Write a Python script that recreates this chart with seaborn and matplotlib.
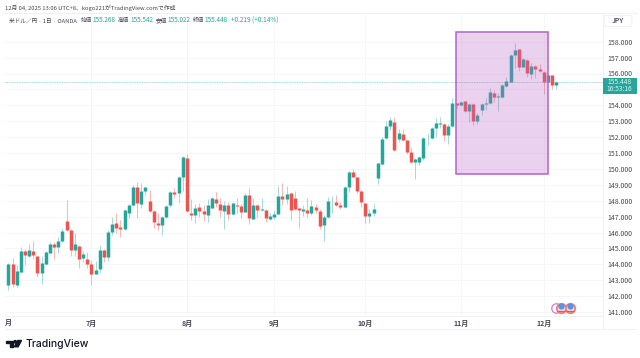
import matplotlib
matplotlib.use("Agg")
import matplotlib.pyplot as plt
from matplotlib.patches import Rectangle, FancyBboxPatch, Polygon, Circle
import pandas as pd
import seaborn as sns

# daily candles, USD/JPY, from 2 June to 4 Dec 2025
opens = [143.31, 142.70, 144.00, 142.70, 143.52, 144.86, 144.53, 144.84, 144.53, 143.48, 144.00, 144.74, 145.28, 145.09,
         145.45, 146.71, 146.16, 144.90, 145.18, 144.40, 144.36, 144.05, 143.37, 143.71, 144.90, 144.44, 146.04, 146.62,
         146.35, 146.25, 147.21, 147.71, 148.89, 147.82, 148.59, 147.99, 147.36, 146.62, 146.48, 146.98, 147.73, 148.55,
         148.51, 149.47, 150.71, 147.25, 147.13, 147.59, 147.36, 147.13, 147.57, 148.11, 147.78, 147.38, 147.76, 147.17,
         147.76, 147.65, 147.32, 148.34, 146.85, 147.73, 147.42, 147.42, 146.87, 147.00, 147.19, 148.32, 148.09, 148.51,
         148.17, 147.52, 147.36, 147.40, 147.21, 147.63, 147.34, 146.46, 146.96, 147.97, 147.92, 147.76, 147.59, 148.89,
         149.83, 149.49, 148.61, 147.84, 147.04, 147.25, 149.41, 150.31, 151.93, 152.70, 152.95, 151.87, 152.20, 151.80,
         151.07, 150.42, 150.44, 150.71, 151.93, 151.95, 152.58, 152.85, 152.85, 152.12, 152.70, 154.13, 154.05, 154.25,
         153.67, 154.11, 153.04, 153.71, 154.09, 154.13, 154.76, 154.51, 154.55, 155.24, 155.49, 157.15, 157.52, 156.43,
         156.85, 156.00, 156.48, 156.31, 156.12, 155.47, 155.89, 155.268]
highs = [143.86, 144.07, 144.38, 143.96, 145.07, 144.95, 145.28, 145.45, 144.53, 144.53, 144.86, 145.41, 145.43, 145.74,
         146.27, 148.05, 146.20, 145.95, 145.22, 144.86, 144.76, 144.28, 144.23, 145.22, 144.95, 146.16, 146.96, 147.21,
         146.79, 147.48, 147.80, 148.99, 149.20, 149.10, 148.89, 148.68, 147.42, 147.21, 147.04, 147.73, 148.61, 148.78,
         149.56, 150.84, 150.92, 148.09, 147.80, 147.88, 147.71, 148.13, 148.26, 148.53, 148.15, 147.99, 147.94, 147.94,
         148.15, 147.80, 148.47, 148.78, 148.15, 147.80, 148.15, 147.46, 147.21, 147.42, 148.93, 149.14, 148.93, 148.57,
         148.59, 147.57, 147.73, 148.15, 148.05, 147.78, 147.46, 147.11, 148.26, 148.30, 148.36, 147.94, 148.93, 149.89,
         149.98, 149.52, 148.68, 147.88, 147.48, 147.80, 150.40, 151.99, 153.04, 153.25, 153.25, 152.54, 152.49, 151.82,
         151.36, 150.67, 150.82, 151.99, 152.28, 152.66, 153.19, 153.25, 152.87, 152.81, 154.44, 154.17, 154.30, 154.30,
         154.13, 154.17, 153.50, 154.17, 154.44, 155.07, 154.97, 154.76, 155.32, 155.76, 157.21, 157.90, 157.57, 156.96,
         156.90, 156.69, 156.54, 156.60, 156.18, 156.06, 155.91, 155.542]
lows = [142.70, 142.39, 142.60, 142.56, 143.48, 143.96, 144.49, 144.32, 143.23, 142.77, 143.96, 144.69, 144.32, 144.74,
        145.41, 146.12, 144.53, 144.53, 143.75, 144.17, 143.79, 142.70, 143.37, 143.44, 144.17, 144.21, 145.85, 145.95,
        145.74, 146.16, 146.90, 147.67, 146.94, 147.52, 148.36, 147.32, 146.31, 146.16, 145.85, 146.90, 147.59, 148.15,
        147.84, 148.61, 147.32, 146.79, 146.62, 146.96, 146.71, 146.69, 147.52, 147.59, 147.00, 146.22, 146.79, 147.11,
        147.21, 146.90, 147.27, 146.54, 146.83, 146.96, 147.36, 146.69, 146.79, 146.83, 147.15, 147.73, 147.80, 146.79,
        147.42, 146.31, 147.04, 147.00, 147.11, 147.21, 146.20, 145.49, 146.90, 147.21, 147.69, 147.46, 147.52, 148.57,
        149.47, 148.47, 147.63, 146.62, 146.58, 147.04, 149.06, 150.27, 151.87, 152.45, 151.15, 151.72, 151.78, 150.94,
        150.36, 149.39, 150.27, 150.57, 151.51, 151.91, 151.99, 152.56, 151.78, 151.55, 152.66, 153.75, 153.96, 153.60,
        152.98, 152.77, 152.81, 153.42, 153.71, 154.09, 154.23, 153.65, 154.44, 155.18, 155.45, 156.33, 156.18, 156.39,
        155.81, 155.66, 155.70, 156.12, 154.69, 155.39, 155.01, 155.022]
closes = [143.30, 144.00, 142.77, 143.56, 144.86, 144.59, 144.88, 144.59, 143.48, 144.11, 144.78, 145.26, 145.11, 145.45,
          146.10, 146.16, 144.90, 145.26, 144.36, 144.65, 144.00, 143.40, 143.65, 144.90, 144.49, 146.06, 146.54, 146.31,
          146.22, 147.42, 147.71, 148.84, 147.88, 148.59, 148.84, 147.34, 146.64, 146.48, 147.00, 147.65, 148.55, 148.45,
          149.52, 150.77, 147.38, 147.08, 147.55, 147.36, 147.15, 147.76, 148.15, 147.84, 147.40, 147.76, 147.15, 147.84,
          147.65, 147.32, 148.38, 146.92, 147.73, 147.42, 147.46, 146.92, 147.06, 147.17, 148.32, 148.11, 148.45, 147.42,
          147.50, 147.40, 147.46, 147.23, 147.67, 147.42, 146.41, 146.98, 148.01, 148.01, 147.71, 147.63, 148.89, 149.81,
          149.49, 148.59, 147.92, 147.06, 147.25, 147.48, 150.36, 151.89, 152.70, 153.08, 151.17, 152.28, 151.80, 151.07,
          150.44, 150.63, 150.75, 151.93, 151.97, 152.58, 152.87, 152.89, 152.12, 152.72, 154.13, 154.05, 154.19, 153.67,
          154.09, 153.04, 153.42, 154.09, 154.17, 154.82, 154.55, 154.59, 155.26, 155.53, 157.17, 157.48, 156.41, 156.92,
          156.04, 156.48, 156.29, 156.18, 155.47, 155.89, 155.26, 155.448]

price_ticks = list(range(141, 159))
month_pos = [21, 44, 65, 87, 110, 130]
month_labels = ["7月", "8月", "9月", "10月", "11月", "12月"]
last_price = 155.448
box_x = [108.9, 131.0]
box_y = [149.70, 158.63]
event_x = [134.1, 136.3]

UP = "#26a69a"
DOWN = "#ef5350"
GRID = "#f5f6f8"
LINE = "#eef0f2"
TEXT = "#434752"

sns.set_theme(style="white")
plt.rcParams["font.family"] = ["Noto Sans CJK JP", "DejaVu Sans"]

df = pd.DataFrame({"day": range(len(opens)), "open": opens, "high": highs, "low": lows, "close": closes})
df["dir"] = ["up" if c >= o else "down" for o, c in zip(df["open"], df["close"])]
wicks = df.melt(id_vars=["day", "dir"], value_vars=["high", "low"], value_name="price")
bodies = df.melt(id_vars=["day", "dir"], value_vars=["open", "close"], value_name="price")

fig = plt.figure(figsize=(6.4, 3.58), dpi=100)
ax = fig.add_axes([4.5 / 640, 1 - 315.5 / 358, (602.5 - 4.5) / 640, (315.5 - 13) / 358])
palette = {"up": UP, "down": DOWN}

sns.lineplot(data=wicks, x="day", y="price", hue="dir", units="day", estimator=None, palette=palette,
             linewidth=0.75, alpha=0.4, legend=False, ax=ax, zorder=2, solid_capstyle="butt")
sns.lineplot(data=bodies, x="day", y="price", hue="dir", units="day", estimator=None, palette=palette,
             linewidth=2.5, legend=False, ax=ax, zorder=3, solid_capstyle="butt")

ax.add_patch(Rectangle((box_x[0], box_y[0]), box_x[1] - box_x[0], box_y[1] - box_y[0],
                       facecolor="#ba68c8", alpha=0.3, edgecolor="none", zorder=4))
ax.add_patch(Rectangle((box_x[0], box_y[0]), box_x[1] - box_x[0], box_y[1] - box_y[0],
                       facecolor="none", edgecolor="#b264c9", linewidth=1.1, zorder=5))
ax.axhline(last_price, color=UP, linewidth=0.6, linestyle=(0, (1, 1)), alpha=0.6, zorder=1)

# the flag bubbles on the time axis
ev_y = 141.25
ax.scatter([133.0], [ev_y], s=46, facecolor="white", edgecolor="#c77ddb", linewidth=0.9, zorder=6)
ax.scatter(event_x, [ev_y] * 2, s=46, facecolor="#fbdcdc", edgecolor="#f27c7c", linewidth=1.3, zorder=7)
ax.scatter(event_x, [ev_y + 0.1] * 2, s=20, color="#4f96ea", linewidth=0, zorder=8)
ax.scatter(event_x, [ev_y - 0.2] * 2, s=26, marker="_", color="#ef5350", linewidth=0.9, zorder=8)

ax.set_xlim((4.5 - 4.3) / 4.15, (602.5 - 4.3) / 4.15)
ax.set_ylim(158 - (315.5 - 41.7) / 15.9, 158 + (41.7 - 13) / 15.9)
ax.set_yticks(price_ticks)
# 155 sits under the last price box, so it has no label
ax.set_yticklabels(["" if p == 155 else f"{p}.000" for p in price_ticks], fontsize=5, color=TEXT)
ax.yaxis.tick_right()
ax.set_xticks(month_pos)
ax.set_xticklabels(month_labels, fontsize=5, color=TEXT, fontweight="bold")
ax.tick_params(axis="both", length=0)
ax.tick_params(axis="y", pad=3.5)
ax.tick_params(axis="x", pad=3)
ax.set_xlabel("")
ax.set_ylabel("")
ax.grid(True, color=GRID, linewidth=0.7)
ax.set_axisbelow(True)
for side in ax.spines.values():
    side.set_color(LINE)
    side.set_linewidth(0.7)
ax.spines["left"].set_visible(False)

# page furniture, in picture pixels
over = fig.add_axes([0, 0, 1, 1], facecolor="none")
over.set_xlim(0, 640)
over.set_ylim(358, 0)
over.axis("off")

over.plot([602.5, 637], [13, 13], color=LINE, linewidth=0.7)
over.plot([4.5, 637], [329, 329], color=LINE, linewidth=0.7)
over.plot([602.5, 602.5], [315.5, 329], color=LINE, linewidth=0.7)
over.text(4.5, 322, "月", fontsize=5, color=TEXT, fontweight="bold", va="center", ha="left")

over.text(5, 7.5, "12月 04, 2025 13:06 UTC+8、kogo221がTradingView.comで作成", fontsize=4.2, color=TEXT, va="center")

head_y = 20.5
over.text(9, head_y, "米ドル／円 · 1日 · OANDA", fontsize=4.1, color=TEXT, va="center")
for x, label in zip([81, 118, 156, 193], ["始値", "高値", "安値", "終値"]):
    over.text(x, head_y, label, fontsize=4.1, color=TEXT, va="center")
for x, label in zip([92.5, 130.5, 167.5, 204.5, 231], ["155.268", "155.542", "155.022", "155.448", "+0.219 (+0.14%)"]):
    over.text(x, head_y, label, fontsize=4.6, color=UP, va="center")

over.add_patch(FancyBboxPatch((604, 15.5), 28, 11, boxstyle="round,pad=0,rounding_size=2",
                              facecolor="white", edgecolor="#f0f1f3", linewidth=0.7))
over.text(618, 21, "JPY", fontsize=5, color=TEXT, ha="center", va="center", fontweight="medium")

over.add_patch(Rectangle((602.5, 78), 34, 15.5, facecolor=UP, edgecolor="none"))
over.text(619.5, 82.2, "155.448", fontsize=4.8, color="white", va="center", ha="center", alpha=0.85)
over.text(619.5, 89.4, "16:53:16", fontsize=4.8, color="white", va="center", ha="center", alpha=0.85)

# TradingView mark
over.add_patch(Polygon([(6, 340.5), (13.2, 340.5), (13.2, 346.8), (9.9, 346.8), (9.9, 342.9), (6, 342.9)], color="#131722"))
over.add_patch(Circle((15.2, 341.8), 1.25, color="#131722"))
over.add_patch(Polygon([(17.8, 340.5), (21.5, 340.5), (18.1, 346.8), (14.4, 346.8)], color="#131722"))
over.text(25, 344, "TradingView", fontsize=7.5, color="#131722", va="center", family="Inter", fontweight="medium")

fig.savefig("out.png", dpi=100)
